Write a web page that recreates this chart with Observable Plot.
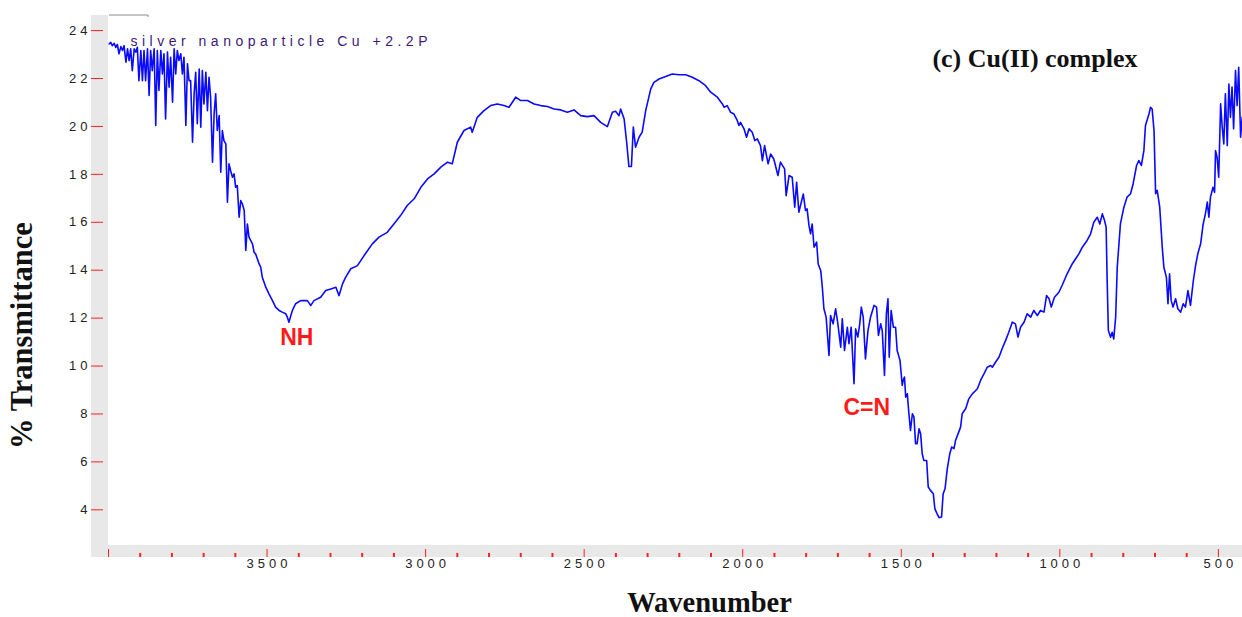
<!DOCTYPE html>
<html>
<head>
<meta charset="utf-8">
<script src="https://cdn.jsdelivr.net/npm/d3@7"></script>
<script src="https://cdn.jsdelivr.net/npm/@observablehq/plot@0.6"></script>
<style>
  body { margin: 0; background: #fff; }
  #chart { width: 1242px; height: 617px; }
</style>
</head>
<body>
<div id="chart"></div>
<script>
// ---- Data ----
const wavenumber = [
  3998,3993,3988,3982,3977,3972,3967,3961,3956,3951,3945,3940,3935,3930,3925,3919,3914,3909,3904,3898,
  3893,3888,3883,3877,3872,3867,3862,3856,3851,3846,3841,3835,3830,3825,3820,3814,3809,3804,3798,3793,
  3788,3783,3778,3772,3767,3762,3756,3751,3746,3741,3735,3730,3725,3720,3714,3709,3704,3699,3693,3688,
  3683,3678,3672,3667,3662,3657,3651,3646,3641,3636,3630,3625,3620,3615,3609,3604,3599,3594,3588,3583,
  3578,3572,3567,3562,3557,3546,3541,3536,3525,3520,3515,3504,3494,3483,3473,3462,3452,3441,3436,3431,
  3425,3420,
  3410,3394,3373,3362,3352,3331,3315,3299,3283,3273,3262,3252,3236,3215,3194,3168,3147,3121,3100,3079,
  3058,3036,3015,2994,2973,2952,2931,2916,2900,2879,2858,2853,2837,2816,2795,2774,2753,2737,2716,2700,
  2679,2658,2637,2616,2595,2574,2553,2532,2511,2490,2469,2448,2427,2411,2401,2390,2385,2374,2366,2359,
  2351,2345,2338,2327,2317,2306,2290,2280,
  2264,2243,2222,2201,2180,2159,2138,2117,2101,2080,2064,2059,2049,2038,2028,2017,2012,2007,1996,1988,
  1980,1970,1962,1954,1944,1938,1931,1920,1912,1902,1889,1881,1868,1863,1854,1844,1836,1830,1823,1809,
  1802,1797,1791,1786,1781,1775,1767,1762,1754,1749,1744,1737,1728,1723,1715,1707,1700,1691,1686,1679,
  1670,1665,1658,1649,1644,1637,1631,1626,1620,1613,1605,1597,1586,1578,1572,1565,1560,1553,1547,1542,
  1538,1532,1525,1518,1513,1504,
  1497,1494,1490,1486,1481,1476,1471,1465,1460,1455,1450,1444,1439,1434,1429,1420,1415,1408,1399,1394,
  1387,1381,1373,1368,1362,1355,1347,1341,1334,1329,1321,1313,1308,1297,1287,1276,1260,1250,1239,1229,
  1218,1213,1203,1192,1182,1171,1161,1150,1140,1132,1124,1113,1103,1092,1082,1071,1061,1050,
  1042,1034,1027,1017,1003,993,977,961,947,940,929,914,903,893,882,874,866,859,854,851,
  847,840,835,830,824,819,809,798,788,777,769,758,751,743,735,730,719,714,709,703,
  698,693,685,677,672,664,659,654,649,643,635,628,619,611,604,596,588,579,572,565,
  556,548,541,535,530,525,517,512,509,504,499,493,488,483,478,472,467,462,457,452,
  446,441,436,430,425
];
const transmittance = [
  23.44,23.51,23.37,23.47,23.30,23.42,23.03,23.33,23.17,23.37,22.68,23.24,22.75,23.24,22.33,23.24,23.10,23.30,21.91,23.17,
  21.91,23.17,21.91,23.24,21.29,23.17,22.33,23.24,20.04,23.17,21.50,23.17,22.19,23.03,20.31,23.10,21.64,22.89,21.01,23.24,
  22.19,23.17,22.75,23.03,22.19,22.89,20.04,22.61,21.91,21.91,19.34,21.36,22.26,20.11,22.40,19.97,22.33,20.94,22.26,20.66,
  22.05,21.22,18.51,20.52,21.36,19.83,20.45,18.09,19.83,19.41,19.27,16.84,18.44,18.16,17.88,18.02,17.46,17.53,16.21,16.91,
  16.77,16.49,14.82,15.93,15.38,15.10,14.75,14.68,14.26,14.13,13.71,13.29,13.01,12.73,12.46,12.32,12.25,12.18,12.04,11.83,
  12.11,12.32,
  12.60,12.73,12.73,12.53,12.73,12.87,13.15,13.22,13.29,12.94,13.43,13.71,14.06,14.19,14.61,15.10,15.38,15.58,15.93,16.28,
  16.70,16.98,17.46,17.81,18.02,18.30,18.51,18.44,19.34,19.83,19.97,19.76,20.38,20.66,20.87,20.94,20.87,20.80,21.22,21.08,
  21.08,20.94,20.87,20.83,20.73,20.69,20.59,20.69,20.45,20.41,20.45,20.17,19.99,20.59,20.63,20.45,20.73,20.31,19.34,18.33,
  18.33,19.97,19.13,19.55,19.76,20.66,21.57,21.84,
  21.98,22.08,22.19,22.16,22.16,22.05,21.91,21.70,21.43,21.22,20.94,20.80,20.87,20.59,20.52,20.24,20.04,20.17,19.90,19.55,
  19.90,19.76,19.41,19.48,19.20,18.57,19.20,18.44,18.85,18.64,17.95,18.51,18.23,17.11,17.95,17.88,16.63,17.67,16.42,17.18,
  16.49,16.56,15.86,15.52,15.93,14.96,15.17,14.26,13.98,13.29,12.39,12.04,10.44,12.11,11.76,12.39,11.76,10.79,11.97,10.65,
  11.62,10.93,11.62,9.26,11.55,11.21,11.76,12.46,12.04,10.30,11.48,12.04,12.53,12.46,11.28,11.76,11.48,9.61,12.18,12.81,
  10.37,12.32,11.62,11.62,10.65,10.23,
  9.19,9.40,9.54,8.70,8.84,8.01,7.31,8.01,7.87,6.76,6.76,7.38,7.17,6.34,6.06,6.06,4.95,4.81,4.67,4.04,
  3.83,3.67,3.70,4.67,4.88,5.71,6.34,6.62,6.55,6.89,7.17,7.45,8.01,8.22,8.63,8.84,9.05,9.40,9.68,9.95,
  10.02,9.95,10.16,10.37,10.72,11.07,11.41,11.83,11.76,11.21,11.62,11.83,12.18,12.04,12.32,12.11,12.32,12.25,
  12.94,12.81,12.46,12.87,13.08,13.36,13.85,14.26,14.54,14.68,14.96,15.24,15.52,16.00,16.21,15.93,16.35,16.07,15.79,13.71,
  11.48,11.20,11.41,11.13,12.04,14.12,15.93,16.63,17.05,17.19,17.60,18.37,18.58,18.37,18.99,20.04,20.52,20.80,20.73,19.83,
  17.19,17.33,16.63,14.96,14.12,13.71,12.60,13.85,12.74,12.46,12.81,12.39,12.25,12.60,12.46,13.15,12.53,13.57,14.19,14.68,
  15.10,15.93,16.35,16.84,16.21,17.05,17.46,17.25,18.99,18.71,17.88,20.94,19.97,19.27,21.36,19.20,21.77,20.38,21.64,19.90,
  22.33,20.87,22.47,19.55,20.38
];
const yTicks = [4, 6, 8, 10, 12, 14, 16, 18, 20, 22, 24];
const xMajorTicks = [4000, 3500, 3000, 2500, 2000, 1500, 1000, 500];
const xLabelTicks = [3500, 3000, 2500, 2000, 1500, 1000, 500];
const xMinorTicks = [3900,3800,3700,3600,3400,3300,3200,3100,2900,2800,2700,2600,2400,2300,2200,2100,
                     1900,1800,1700,1600,1400,1300,1200,1100,900,800,700,600];
const bandLabels = ["NH", "C=N"];
const bandWavenumbers = [3406, 1609];
const bandTransmittance = [11.2, 8.25];
const sampleName = "silver nanoparticle Cu +2.2P";
const panelTitle = "(c) Cu(II) complex";
const xTitle = "Wavenumber";
const yTitle = "% Transmittance";

const spectrum = wavenumber.map((w, i) => ({w, t: transmittance[i]}));
const bands = bandLabels.map((label, i) => ({label, w: bandWavenumbers[i], t: bandTransmittance[i]}));

const W = 1242, H = 617;
const mLeft = 108, mTop = 15, mBottom = 72, mRight = 0;

const plot = Plot.plot({
  width: W, height: H,
  marginLeft: mLeft, marginTop: mTop, marginBottom: mBottom, marginRight: mRight,
  style: {fontFamily: "'Liberation Sans', Arial, sans-serif", fontSize: "13px", color: "#222", background: "#fff", overflow: "visible"},
  x: {domain: [4000, 424]},
  y: {domain: [2.51, 24.63]},
  marks: [
    Plot.axisY(yTicks, {anchor: "left", tickSize: 12, dx: -5, tickPadding: 0, stroke: "#ff2020", fill: "#222", label: null, fontSize: 13}),
    Plot.axisX(xMajorTicks, {anchor: "bottom", tickSize: 8, dy: 4, stroke: "#ff2020", tickFormat: () => "", label: null}),
    Plot.axisX(xMinorTicks, {anchor: "bottom", tickSize: 4, dy: 8, stroke: "#ff2020", strokeWidth: 2, tickFormat: () => "", label: null}),
    Plot.axisX(xLabelTicks, {anchor: "bottom", tickSize: 0, tickPadding: 13, dx: 2, fill: "#222", label: null, fontSize: 13, tickFormat: d => String(d)}),
    Plot.line(spectrum, {x: "w", y: "t", stroke: "#0a0aff", strokeWidth: 1.6}),
    Plot.text(bands, {x: "w", y: "t", text: "label", fill: "#ff1a1a", fontWeight: "bold", fontSize: 23,
      fontFamily: "'Liberation Sans', Arial, sans-serif", lineAnchor: "middle"}),
    Plot.text([panelTitle], {frameAnchor: "top-right", text: d => d, textAnchor: "end", lineAnchor: "middle",
      dx: -105, dy: 43, fontFamily: "'Liberation Serif', 'Times New Roman', serif", fontWeight: "bold", fontSize: 26, fill: "#111"}),
    Plot.text([sampleName], {frameAnchor: "top-left", text: d => d, textAnchor: "start", lineAnchor: "middle",
      dx: 22, dy: 26, fontSize: 14, fill: "#3c1a78"}),
    Plot.text([xTitle], {frameAnchor: "bottom", text: d => d, textAnchor: "middle", lineAnchor: "middle", dx: 34, dy: 57,
      fontFamily: "'Liberation Serif', 'Times New Roman', serif", fontWeight: "bold", fontSize: 28.5, fill: "#111"}),
    Plot.text([yTitle], {frameAnchor: "left", text: d => d, rotate: -90, textAnchor: "middle", lineAnchor: "middle", dx: -86, dy: 55,
      fontFamily: "'Liberation Serif', 'Times New Roman', serif", fontWeight: "bold", fontSize: 30.5, fill: "#111"})
  ]
});

// Instrument-style grey frame bands behind the axes
const svg = d3.select(plot);
const band = svg.insert("g", ":first-child").attr("fill", "#e8e8e8");
const plotBottom = H - mBottom;
band.append("rect").attr("x", mLeft - 17).attr("y", mTop).attr("width", 17).attr("height", plotBottom + 12 - mTop);
band.append("rect").attr("x", mLeft - 17).attr("y", plotBottom).attr("width", W - mLeft + 17).attr("height", 12);
svg.insert("rect", ":first-child").attr("x", 0).attr("y", 0).attr("width", W).attr("height", H).attr("fill", "#fff");
// small grey marker segment at the top left of the frame
svg.append("path").attr("d", `M${mLeft + 1},${mTop}H${mLeft + 40}V${mTop + 2}`).attr("fill", "none").attr("stroke", "#8a8a8a").attr("stroke-width", 1);

// spaced digits / letters as in the instrument printout
svg.selectAll('g[aria-label="y-axis tick label"] text, g[aria-label="x-axis tick label"] text').style("letter-spacing", "4px");
svg.selectAll("text").filter(function() { return this.textContent === sampleName; }).style("letter-spacing", "4.5px");

document.getElementById("chart").append(plot);
</script>
</body>
</html>
